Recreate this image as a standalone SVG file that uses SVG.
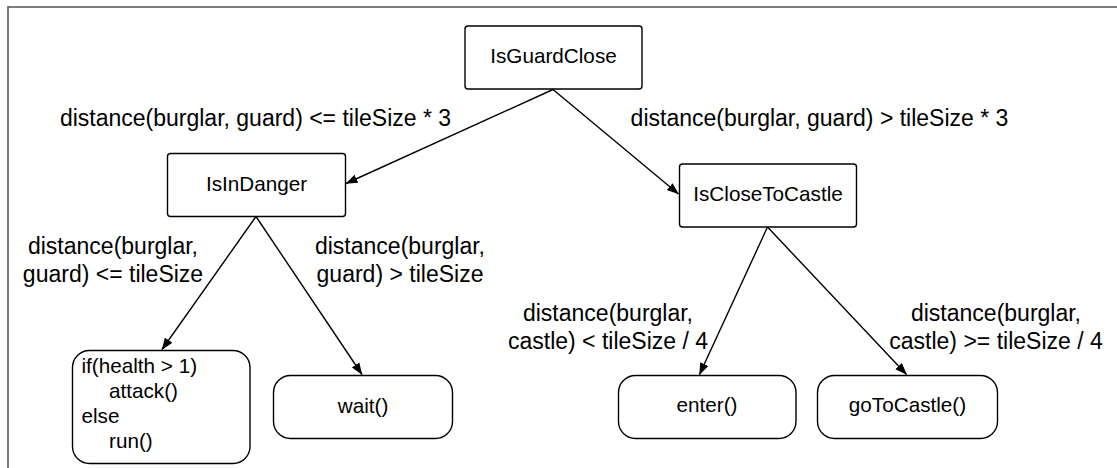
<svg xmlns="http://www.w3.org/2000/svg" width="1117" height="468" viewBox="0 0 1117 468">
<style>
.node{fill:#fff;stroke:#000;stroke-width:1.4}
.nt{font-family:"Liberation Sans",Arial,sans-serif;font-size:20.7px;fill:#000;text-anchor:middle}
.lt{font-family:"Liberation Sans",Arial,sans-serif;font-size:23px;fill:#000;text-anchor:middle}
.code{font-family:"Liberation Sans",Arial,sans-serif;font-size:20.7px;fill:#000}
.edge{fill:none;stroke:#000;stroke-width:1.4}
</style>
<defs>
<marker id="arr" viewBox="0 0 12 10" refX="11.5" refY="5" markerWidth="12" markerHeight="10" markerUnits="userSpaceOnUse" orient="auto">
<path d="M0,0.5 L12,5 L0,9.5 Z" fill="#000"/>
</marker>
</defs>
<rect x="0" y="0" width="1117" height="468" fill="#fff"/>
<rect x="8" y="7" width="1200" height="600" fill="none" stroke="#5c5c5c" stroke-width="1.6"/>
<g id="connectors">
<line class="edge" x1="553" y1="89.5" x2="346" y2="183.5" marker-end="url(#arr)"/>
<line class="edge" x1="553" y1="89.5" x2="678.5" y2="194" marker-end="url(#arr)"/>
<line class="edge" x1="256" y1="216.5" x2="162" y2="349.5" marker-end="url(#arr)"/>
<line class="edge" x1="256" y1="216.5" x2="362" y2="374.5" marker-end="url(#arr)"/>
<line class="edge" x1="767.5" y1="227" x2="699.5" y2="374.5" marker-end="url(#arr)"/>
<line class="edge" x1="767.5" y1="227" x2="906.5" y2="374.5" marker-end="url(#arr)"/>
<text class="lt" x="255.5" y="126">distance(burglar, guard) &lt;= tileSize * 3</text>
<text class="lt" x="819.5" y="126">distance(burglar, guard) &gt; tileSize * 3</text>
<text class="lt" x="113" y="254">distance(burglar,</text>
<text class="lt" x="113" y="282">guard) &lt;= tileSize</text>
<text class="lt" x="400" y="254">distance(burglar,</text>
<text class="lt" x="400" y="282">guard) &gt; tileSize</text>
<text class="lt" x="608" y="321">distance(burglar,</text>
<text class="lt" x="608" y="349">castle) &lt; tileSize / 4</text>
<text class="lt" x="996" y="321">distance(burglar,</text>
<text class="lt" x="996" y="349">castle) &gt;= tileSize / 4</text>
</g>
<g id="IsGuardClose">
<rect class="node" x="465" y="26" width="177" height="63" rx="3"/>
<text class="nt" x="553.5" y="63">IsGuardClose</text>
</g>
<g id="IsInDanger">
<rect class="node" x="167.5" y="153.5" width="178" height="63" rx="3"/>
<text class="nt" x="256.5" y="190.5">IsInDanger</text>
</g>
<g id="IsCloseToCastle">
<rect class="node" x="679.5" y="164" width="177" height="63" rx="3"/>
<text class="nt" x="768" y="200.5">IsCloseToCastle</text>
</g>
<g id="attackOrRun">
<rect class="node" x="72.5" y="350.5" width="177.5" height="113" rx="17"/>
<text class="code" x="81.5" y="373">if(health &gt; 1)</text>
<text class="code" x="109" y="398">attack()</text>
<text class="code" x="81.5" y="423">else</text>
<text class="code" x="109" y="448">run()</text>
</g>
<g id="wait">
<rect class="node" x="273.5" y="375.5" width="179" height="63" rx="17"/>
<text class="nt" x="363" y="412.5">wait()</text>
</g>
<g id="enter">
<rect class="node" x="618.5" y="375.5" width="177.5" height="63" rx="17"/>
<text class="nt" x="707" y="412">enter()</text>
</g>
<g id="goToCastle">
<rect class="node" x="817.5" y="375.5" width="180" height="63" rx="17"/>
<text class="nt" x="907.5" y="412">goToCastle()</text>
</g>
</svg>
